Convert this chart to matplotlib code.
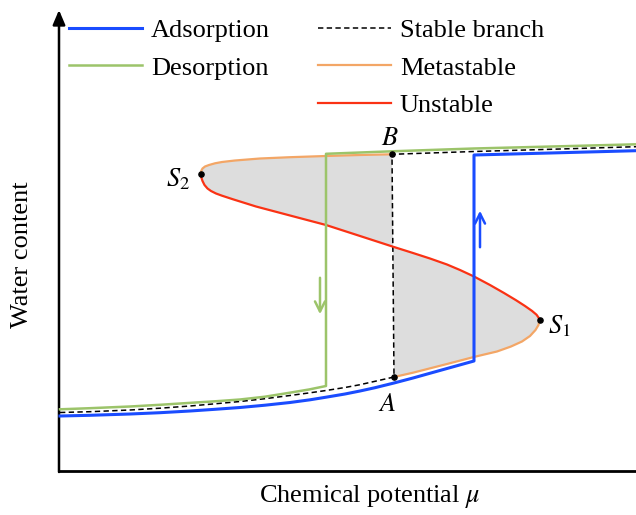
import matplotlib
matplotlib.use('Agg')
import matplotlib.pyplot as plt

plt.rcParams['font.family'] = ['Liberation Serif', 'DejaVu Serif']
plt.rcParams['mathtext.fontset'] = 'stix'

# ---- schematic data (mu = chemical potential, w = water content, arbitrary units) ----
# lower metastable branch: A -> S1
lower_meta_mu = [335, 354, 388, 416, 438, 452, 463, 471, 476.5, 479.5, 480.5]
lower_meta_w = [94, 98.3, 107, 114.3, 119.5, 124.5, 129.5, 135, 141, 146, 151]
# unstable branch: S1 -> S2
unstable_mu = [480.5, 479.7, 477.5, 473, 466, 457, 445, 431, 415, 401, 388, 371, 354, 334,
               301, 267, 231, 197, 174, 163, 157, 152, 148.5, 145.5, 143.5, 142.2, 141.7]
unstable_w = [151, 153.2, 156.3, 160.1, 165, 170.8, 178, 186, 194.5, 201, 206.5, 212.5, 218, 224.3,
              235, 246, 255.5, 264.5, 271.7, 275.3, 277.5, 280, 282.5, 286, 290, 294, 297]
unstable_split = 13   # index where the Maxwell line crosses the unstable branch
# upper metastable branch: S2 -> B
upper_meta_mu = [141.7, 142.2, 143.5, 146, 150, 156, 163, 176, 201, 231, 267, 301, 333]
upper_meta_w = [297, 300, 302.5, 304.5, 306, 307.7, 309, 310.5, 312.5, 313.8, 315, 316, 316.7]
# stable branch (Maxwell construction)
stable_mu = [1, 31, 71, 101, 131, 156, 181, 206, 231, 251, 267, 286, 301, 316, 335,
             333, 415, 501, 577]
stable_w = [58.5, 59.3, 61, 62.8, 65, 67.2, 69.5, 72.3, 75.5, 78.2, 80.5, 83.5, 86.3, 89.7, 94,
            316.7, 319.5, 322, 324.3]
# adsorption path
ads_mu = [1, 31, 71, 101, 131, 156, 181, 206, 231, 251, 267, 286, 301, 316, 335, 354,
          388, 415, 415, 491, 577]
ads_w = [55, 55.7, 57, 58.3, 60, 61.7, 63.5, 65.8, 68.5, 71.2, 73.8, 77, 80, 83.3, 88, 93,
         102.5, 110, 316, 318, 320.3]
# desorption path
des_mu = [577, 501, 415, 333, 267, 267, 250, 229, 206, 181, 156, 129, 101, 71, 31, 1]
des_w = [326.7, 324.7, 322.5, 319.7, 317.2, 85, 81.5, 78, 74.3, 71.5, 69.7, 68, 66.2, 64.5, 62.8, 61.7]

point_labels = ['$S_1$', '$S_2$', '$A$', '$B$']
legend_left = ['Adsorption', 'Desorption']
legend_right = ['Stable branch', 'Metastable', 'Unstable']
xlabel = 'Chemical potential $\\mu$'
ylabel = 'Water content'

BLUE = '#1a4cff'
GREEN = '#9cc46a'
ORANGE = '#f3a666'
RED = '#fa3214'
FILL = '#dddddd'
FS = 19

fig = plt.figure(figsize=(6.36, 5.15), dpi=100)
ax = fig.add_axes([0, 0, 1, 1])
ax.set_xlim(-59, 577)
ax.set_ylim(-44, 471)
ax.axis('off')

# shaded equal-area regions
ax.fill(upper_meta_mu + unstable_mu[unstable_split:], upper_meta_w + unstable_w[unstable_split:],
        color=FILL, lw=0, zorder=1)
ax.fill(unstable_mu[:unstable_split + 1] + lower_meta_mu, unstable_w[:unstable_split + 1] + lower_meta_w,
        color=FILL, lw=0, zorder=1)

l_stable, = ax.plot(stable_mu, stable_w, color='black', lw=1.1, ls=(0, (3.5, 2.2)), zorder=3,
                    label=legend_right[0])
l_un, = ax.plot(unstable_mu, unstable_w, color=RED, lw=1.6, zorder=4, label=legend_right[2],
                solid_joinstyle='round')
l_meta, = ax.plot(upper_meta_mu, upper_meta_w, color=ORANGE, lw=1.6, zorder=4, label=legend_right[1],
                  solid_joinstyle='round')
ax.plot(lower_meta_mu, lower_meta_w, color=ORANGE, lw=1.6, zorder=4, solid_joinstyle='round')
l_ads, = ax.plot(ads_mu, ads_w, color=BLUE, lw=2.2, zorder=5, label=legend_left[0])
l_des, = ax.plot(des_mu, des_w, color=GREEN, lw=1.8, zorder=5, label=legend_left[1])

# special points
pts_mu = [lower_meta_mu[-1], upper_meta_mu[0], lower_meta_mu[0], upper_meta_mu[-1]]
pts_w = [lower_meta_w[-1], upper_meta_w[0], lower_meta_w[0], upper_meta_w[-1]]
ax.scatter(pts_mu, pts_w, s=14, color='black', zorder=7)
offsets = [(20, -6), (-23, -5), (-7, -28), (-2, 15)]
for lab, m, w, (dx, dy) in zip(point_labels, pts_mu, pts_w, offsets):
    ax.text(m + dx, w + dy, lab, fontsize=FS, ha='center', va='center')

# direction arrows
ax.annotate('', xy=(261, 154), xytext=(261, 196),
            arrowprops=dict(arrowstyle='->', color=GREEN, lw=1.8, mutation_scale=18))
ax.annotate('', xy=(421, 263), xytext=(421, 221),
            arrowprops=dict(arrowstyle='->', color=BLUE, lw=1.8, mutation_scale=18))

# axes
ax.annotate('', xy=(0, 461), xytext=(0, -1),
            arrowprops=dict(arrowstyle='-|>,head_width=0.17', color='black', lw=1.8,
                            mutation_scale=22, shrinkA=0, shrinkB=0))
ax.plot([-1, 577], [0, 0], color='black', lw=2.0, solid_capstyle='butt', clip_on=False)

ax.text(311, -26, xlabel, fontsize=FS, ha='center', va='center')
ax.text(-37, 216, ylabel, fontsize=FS, ha='center', va='center', rotation=90)

leg1 = ax.legend(handles=[l_ads, l_des], loc='upper left', bbox_to_anchor=(69 / 636, 1 - 19 / 515),
                 bbox_transform=fig.transFigure, frameon=False, fontsize=FS, borderpad=0,
                 borderaxespad=0, handlelength=2.75, handletextpad=0.35, labelspacing=0.52)
ax.add_artist(leg1)
ax.legend(handles=[l_stable, l_meta, l_un], loc='upper left', bbox_to_anchor=(318 / 636, 1 - 19 / 515),
          bbox_transform=fig.transFigure, frameon=False, fontsize=FS, borderpad=0,
          borderaxespad=0, handlelength=2.75, handletextpad=0.35, labelspacing=0.52)

fig.savefig('out.png', dpi=100)
